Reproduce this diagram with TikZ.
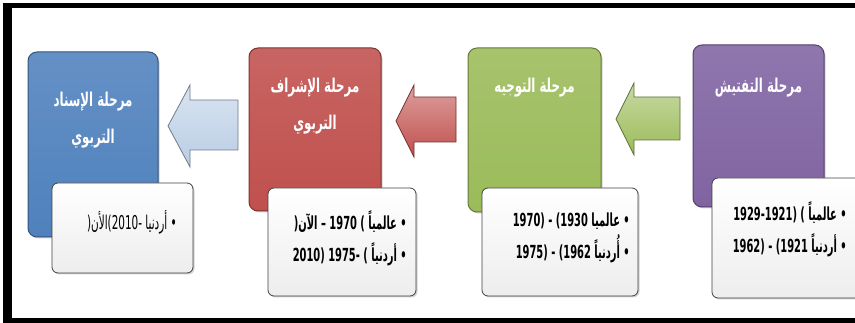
\documentclass[tikz,border=0pt]{standalone}
\usepackage{fontspec}
\usetikzlibrary{shadows}
\TeXXeTstate=1
\newfontfamily\arabicfont[Script=Arabic,FakeStretch=0.62]{DejaVu Sans}
\newfontfamily\factfont[Script=Arabic,FakeStretch=0.55]{DejaVu Sans}
\newcommand{\ar}[1]{\beginR#1\endR}
\newcommand{\cut}{\kern0pt\relax}
\definecolor{stageBlue}{HTML}{4F81BD}
\definecolor{stageRed}{HTML}{C0504D}
\definecolor{stageGreen}{HTML}{9BBB59}
\definecolor{stagePurple}{HTML}{8064A2}
\definecolor{arrowBlue}{HTML}{B9CDE5}

\begin{document}
\begin{tikzpicture}[x=1pt, y=-1pt,
    stage/.style={draw=#1!65!black, line width=1pt, rounded corners=9pt,
      top color=#1!88!white, bottom color=#1, inner sep=0pt,
      drop shadow={opacity=0.35, shadow xshift=1.5pt, shadow yshift=-1.5pt}},
    note/.style={draw=black!75, line width=0.8pt, rounded corners=6pt,
      top color=white, bottom color=gray!14, inner sep=0pt,
      drop shadow={opacity=0.35, shadow xshift=1.5pt, shadow yshift=-1.5pt}},
    blockarrow/.style={draw=#1!60!black, line width=0.8pt,
      top color=#1!55!white, bottom color=#1},
    head/.style={text=white, align=center, inner sep=0pt,
      font=\arabicfont\bfseries\fontsize{19}{37}\selectfont},
    facts/.style={text=black, align=right, inner sep=0pt, anchor=east,
      font=\factfont\bfseries\fontsize{18}{32}\selectfont},
    frame/.style={draw=black}]

    \useasboundingbox (0,0) rectangle (855,323);

    % Frame
    \draw[frame, line width=5pt] (3,5.5) -- (855,5.5);
    \draw[frame, line width=5pt] (3,320.5) -- (855,320.5);
    \draw[frame, line width=9pt] (7.5,3) -- (7.5,323);

    % Stages
    \node[stage=stageBlue, minimum width=130pt, minimum height=185pt] (blue) at (93,144.5) {};
    \node[stage=stageRed, minimum width=132pt, minimum height=163pt] (red) at (315,129.5) {};
    \node[stage=stageGreen, minimum width=133pt, minimum height=164pt] (green) at (534.5,130) {};
    \node[stage=stagePurple, minimum width=131pt, minimum height=162pt] (purple) at (758.5,126) {};

    % Titles
    \node[head] (blueTitle) at ([yshift=-69pt]blue.north) {\ar{مرحلة الإسناد}\\\ar{التربوي}};
    \node[head] (redTitle) at ([yshift=-59pt]red.north) {\ar{مرحلة الإشراف}\\\ar{التربوي}};
    \node[head] (greenTitle) at ([yshift=-40pt]green.north) {\ar{مرحلة التوجيه}};
    \node[head] (purpleTitle) at ([yshift=-43pt]purple.north) {\ar{مرحلة التفتيش}};

    % Arrows
    \draw[blockarrow=arrowBlue] (238,100) -- (190,100) -- (190,85) -- (168,126)
      -- (190,167) -- (190,150) -- (238,150) -- cycle;
    \draw[blockarrow=stageRed] (456,97) -- (414,97) -- (414,85) -- (396,121)
      -- (414,157) -- (414,142) -- (456,142) -- cycle;
    \draw[blockarrow=stageGreen] (680,97) -- (634,97) -- (634,83) -- (616,119)
      -- (634,155) -- (634,140) -- (680,140) -- cycle;

    % Dates
    \node[note, minimum width=141pt, minimum height=90pt] (blueNote) at (122.5,228) {};
    \node[note, minimum width=148pt, minimum height=108pt] (redNote) at (342,242) {};
    \node[note, minimum width=156pt, minimum height=108pt] (greenNote) at (560,242) {};
    \node[note, minimum width=150pt, minimum height=120pt] (purpleNote) at (787,238) {};

    \node[facts, font=\factfont\fontsize{19}{32}\selectfont] (blueFacts) at (177,222)
      {(\cut الأن\cut-2010) أردنيا \cut•};
    \node[facts] (redFacts) at (407,238.5)
      {(\cut الآن\cut{} – 1970 ) عالمياً \cut•\\(2010 -1975 ) أردنياً \cut•};
    \node[facts] (greenFacts) at (630,237.5)
      {(1970 - 1930) عالميا \cut•\\(1975 - 1962) أُردنياً \cut•};
    \node[facts] (purpleFacts) at (847,229)
      {(1929-1921 ) عالمياً \cut•\\(1962 - 1921) أردنياً \cut•};

\end{tikzpicture}
\end{document}
